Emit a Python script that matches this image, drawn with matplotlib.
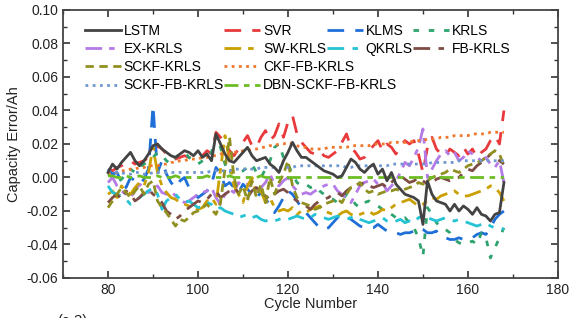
import numpy as np
import matplotlib.pyplot as plt
from matplotlib.ticker import MultipleLocator, FormatStrFormatter

plt.rcParams['font.family'] = ['Liberation Sans', 'DejaVu Sans']
plt.rcParams['font.size'] = 10
plt.rcParams['axes.unicode_minus'] = False

cycles = np.arange(80, 169)

# capacity errors in mAh (divided by 1000 below)
lstm = [3, 8, 5, 9, 12, 15, 10, 7, 10, 14,
        19, 20, 17, 15, 13, 12, 14, 16, 15, 13,
        16, 12, 14, 10, 26, 20, 14, 10, 9, 12,
        15, 18, 13, 10, 11, 12, 8, 6, 3, 10,
        15, 21, 16, 12, 12, 10, 8, 6, 4, 3,
        2, 0, 1, 6, 11, 9, 5, 3, 6, 8,
        2, 5, -2, 3, -4, -7, -10, -11, -12, -14,
        -28, -2, -10, -14, -15, -16, -20, -16, -20, -17,
        -19, -22, -18, -22, -23, -26, -22, -21, -3]
svr = [5, 4, 6, 7, 9, 10, 8, 9, 10, 12,
       15, 19, 17, 14, 12, 11, 12, 13, 12, 11,
       12, 13, 16, 14, 27, 24, 20, 16, 13, 17,
       21, 25, 19, 18, 24, 28, 22, 25, 32, 24,
       33, 37, 26, 21, 18, 15, 14, 16, 13, 12,
       14, 16, 21, 26, 18, 15, 11, 12, 16, 19,
       22, 16, 20, 18, 14, 19, 22, 20, 22, 14,
       3, 18, 24, 17, 14, 13, 17, 15, 13, 18,
       14, 17, 12, 15, 17, 22, 25, 20, 40]
klms = [5, 2, 3, -3, -6, 0, -2, -4, -1, 5,
        43, 3, 10, 2, -3, -6, -2, 0, -6, -9,
        -12, -10, -8, -4, 6, 2, -5, -3, -6, -9,
        -4, -7, -10, -12, -9, -13, -16, -21, -17, -12,
        -8, -10, -14, -18, -21, -24, -27, -30, -31, -30,
        -27, -24, -22, -23, -25, -27, -29, -30, -30, -30,
        -28, -30, -32, -33, -33, -34, -33, -33, -32, -30,
        -31, -33, -33, -32, -35, -36, -37, -37, -36, -37,
        -37, -36, -34, -33, -34, -30, -25, -22, -20]
krls = [2, 0, -3, -1, 2, 5, 3, 6, 8, 10,
        12, 15, 13, 10, 8, 12, 14, 15, 12, 10,
        8, 10, 12, 15, 25, 18, 8, 2, 5, 3,
        4, 6, 8, 3, 0, 5, 10, 18, 20, 12,
        8, 2, -3, -5, -4, -6, -5, -8, -10, -12,
        -13, -15, -14, -10, -12, -16, -18, -15, -14, -16,
        -17, -19, -20, -22, -24, -25, -24, -27, -30, -36,
        -47, -18, -22, -27, -30, -31, -33, -37, -39, -40,
        -39, -38, -40, -33, -36, -48, -42, -36, -30]
ex_krls = [-3, 0, -5, -8, -10, -12, -8, -4, -6, -9,
           -7, -5, -9, -10, -8, -11, -13, -15, -14, -12,
           -10, -9, -8, -6, -12, -16, -10, -7, -9, -3,
           -5, -4, -6, -8, -6, -3, 2, -4, -5, -2,
           0, -5, -8, -10, -9, -10, -8, -7, -5, -4,
           -4, -8, -10, -12, -15, -10, -5, -3, -2, -1,
           -4, -3, -8, -5, -2, 3, 9, 7, 12, 18,
           29, 0, 5, 10, 14, 16, 13, 15, 10, 12,
           16, 14, 12, 10, 12, 8, 6, 10, -3]
sw_krls = [-10, -8, -12, -5, -8, -10, -6, -3, -5, 3,
           18, 3, -5, -9, -12, -13, -15, -16, -17, -18,
           -19, -18, -14, -12, -16, 5, 25, 10, -5, -10,
           -15, -5, 0, -10, -8, -15, -12, -18, -20, -19,
           -20, -18, -22, -20, -21, -19, -18, -17, -20, -21,
           -22, -23, -21, -20, -22, -23, -22, -21, -20, -22,
           -21, -19, -20, -18, -16, -15, -14, -13, -15, -17,
           -16, -14, -12, -13, -11, -10, -9, -8, -10, -11,
           -11, -10, -9, -8, -7, -5, -6, -9, -14]
qkrls = [-5, -9, -10, -11, -13, -16, -14, -12, -10, -8,
         -6, -10, -19, -14, -12, -10, -13, -15, -14, -16,
         -18, -17, -15, -16, -19, -18, -20, -21, -22, -24,
         -23, -22, -24, -23, -25, -26, -25, -26, -25, -24,
         -25, -24, -23, -24, -25, -24, -22, -23, -24, -25,
         -24, -23, -24, -25, -24, -23, -25, -26, -27, -26,
         -25, -24, -26, -27, -26, -25, -27, -26, -27, -24,
         -23, -24, -25, -26, -25, -24, -25, -26, -25, -26,
         -27, -28, -29, -28, -27, -29, -30, -30, -31]
fb_krls = [-15, -12, -10, -13, -8, -10, -14, -12, -9, -7,
           -10, -12, -15, -20, -22, -25, -23, -20, -18, -16,
           -14, -15, -13, -10, -8, -12, -10, -8, -6, -9,
           -10, -12, -8, -6, -9, -11, -13, -10, -8, -7,
           -9, -12, -14, -16, -17, -19, -16, -14, -13, -12,
           -10, -9, -11, -8, -6, -5, -4, -3, -5, -6,
           -5, -4, -6, -3, 0, 1, -1, -3, -2, 0,
           -2, -4, -3, -1, 0, -1, -2, -1, 0, 3,
           5, 4, 7, 9, 11, 14, 12, 10, 8]
sckf_krls = [-18, -14, -10, -6, -9, -12, -8, -5, -10, -4,
             -2, -14, -18, -21, -25, -29, -25, -26, -24, -21,
             -20, -18, -16, -19, -22, -15, 5, 24, 0, -10,
             -5, -14, -2, -12, -4, -15, 0, -10, -3, 2,
             10, -5, -12, -15, -16, -17, -19, -18, -16, -15,
             -14, -13, -15, -10, -6, -5, -3, -7, -9, -8,
             -10, -9, -8, -8, -7, -8, -7, -6, -5, -3,
             -4, -2, 0, 1, 2, 3, 5, 4, 3, 5,
             7, 8, 9, 10, 12, 14, 16, 14, 7]
ckf_fb_krls = [2, 3, 3, 4, 4, 5, 5, 6, 6, 7,
               7, 7, 8, 8, 9, 9, 10, 10, 11, 11,
               11, 12, 12, 13, 13, 14, 14, 14, 15, 15,
               16, 16, 17, 17, 18, 18, 19, 19, 20, 20,
               21, 20, 19, 18, 18, 17, 17, 17, 17, 18,
               18, 18, 18, 18, 19, 19, 19, 19, 19, 20,
               20, 20, 20, 21, 21, 21, 21, 21, 22, 22,
               22, 23, 23, 23, 24, 24, 24, 25, 25, 25,
               25, 26, 26, 26, 26, 27, 27, 27, 27]
sckf_fb_krls = [4, 4, 3, 3, 2, 2, 3, 3, 2, 2,
                3, 3, 3, 3, 3, 3, 3, 3, 3, 3,
                3, 3, 3, 4, 4, 4, 4, 4, 5, 5,
                5, 5, 5, 5, 6, 6, 6, 6, 6, 6,
                6, 6, 7, 7, 7, 7, 7, 7, 7, 7,
                7, 7, 7, 6, 6, 7, 7, 7, 7, 7,
                7, 7, 7, 8, 8, 8, 8, 8, 8, 8,
                8, 8, 9, 9, 9, 9, 9, 9, 10, 10,
                10, 10, 10, 10, 10, 10, 10, 10, 10]
dbn = [1, 1, 0, 0, 1, 0, 0, 1, 0, 0,
       0, 1, 0, 0, 0, 1, 0, 0, 0, 0,
       0, 0, 1, 0, 0, 0, 0, 1, 0, 0,
       0, 0, 0, 0, 1, 0, 0, 0, 0, 0,
       0, 0, 0, 0, 0, 0, 0, 0, 0, 0,
       0, 0, 0, 0, 0, 0, 0, 0, 0, 0,
       0, 0, 0, 0, 0, 0, 0, 0, 0, 0,
       0, 0, 0, 0, 0, 0, 0, 0, 0, 0,
       0, 0, 0, 0, 0, 0, 0, 0, 0]

series = [
    ('LSTM', lstm, '#434343', None),
    ('SVR', svr, '#e8393c', (6, 4)),
    ('KLMS', klms, '#1f6fd8', (6, 4)),
    ('KRLS', krls, '#2ea36e', (2, 3.5)),
    ('EX-KRLS', ex_krls, '#b47ae6', (6, 2.5, 2, 2.5)),
    ('SW-KRLS', sw_krls, '#c9a000', (6, 2.5, 2, 2.5)),
    ('QKRLS', qkrls, '#25c3d4', (6, 3, 2, 3)),
    ('FB-KRLS', fb_krls, '#7d4c44', (6, 3, 2, 3)),
    ('SCKF-KRLS', sckf_krls, '#909020', (3, 2)),
    ('CKF-FB-KRLS', ckf_fb_krls, '#f0762a', (1, 1.6)),
    ('SCKF-FB-KRLS', sckf_fb_krls, '#6e96d2', (1, 1.6)),
    ('DBN-SCKF-FB-KRLS', dbn, '#6cbd24', (5, 2, 2, 2)),
]

fig = plt.figure(figsize=(5.74, 3.18), dpi=100)
ax = fig.add_axes([0.1098, 0.1258, 0.8622, 0.8428])

handles = {}
for name, vals, col, dash in series:
    y = np.array(vals) / 1000.0
    if dash is None:
        ln, = ax.plot(cycles, y, color=col, lw=2.0, label=name, zorder=5)
    else:
        ln, = ax.plot(cycles, y, color=col, lw=2.0, label=name,
                      dashes=dash, zorder=3)
    handles[name] = ln

leg_kw = dict(frameon=False, handlelength=2.6, handletextpad=0.2,
              columnspacing=0.0, labelspacing=0.3, borderaxespad=0,
              borderpad=0, fontsize=10, loc='upper left')

left_names = ['LSTM', 'EX-KRLS', 'SCKF-KRLS', 'SCKF-FB-KRLS',
              'SVR', 'SW-KRLS', 'CKF-FB-KRLS', 'DBN-SCKF-FB-KRLS']
right_names = ['KLMS', 'QKRLS', 'KRLS', 'FB-KRLS']

leg1 = ax.legend([handles[n] for n in left_names], left_names, ncol=2,
                 bbox_to_anchor=(0.044, 0.948), **leg_kw)
ax.add_artist(leg1)
ax.legend([handles[n] for n in right_names], right_names, ncol=2,
          bbox_to_anchor=(0.533, 0.948), **leg_kw)

ax.set_xlim(70, 180)
ax.set_ylim(-0.06, 0.10)
ax.xaxis.set_major_locator(MultipleLocator(20))
ax.xaxis.set_minor_locator(MultipleLocator(10))
ax.yaxis.set_major_locator(MultipleLocator(0.02))
ax.yaxis.set_minor_locator(MultipleLocator(0.01))
ax.yaxis.set_major_formatter(FormatStrFormatter('%.2f'))
ax.set_xticks([80, 100, 120, 140, 160, 180])
ax.tick_params(which='both', direction='in', top=True, right=True,
               color='#333333', labelsize=10, labelcolor='#222222')
ax.tick_params(which='major', length=5, width=1.2)
ax.tick_params(which='minor', length=3, width=1.0)
for sp in ax.spines.values():
    sp.set_color('#444444')
    sp.set_linewidth(1.3)

ax.set_xlabel('Cycle Number', fontsize=10.5, labelpad=0, color='#222222')
ax.set_ylabel('Capacity Error/Ah', fontsize=10.5, labelpad=4, color='#222222')

fig.text(0.10, 0.013, '(c-3)', fontsize=10.5, va='top', color='#222222')

fig.savefig('out.png', dpi=100)
